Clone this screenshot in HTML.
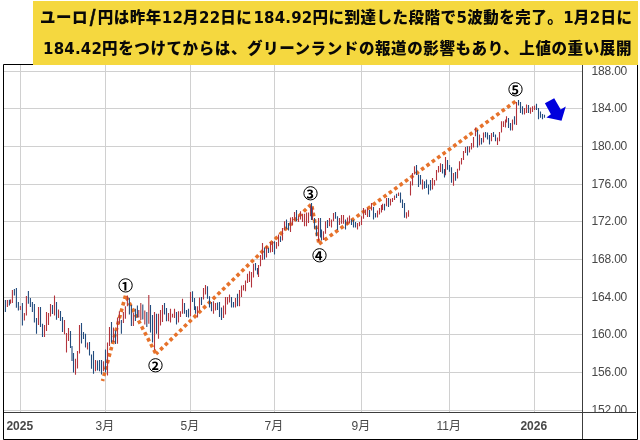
<!DOCTYPE html>
<html lang="ja"><head><meta charset="utf-8"><title>ユーロ/円</title>
<style>
html,body{margin:0;padding:0;background:#fff;}
body{width:640px;height:440px;position:relative;overflow:hidden;}
.box{position:absolute;left:33px;top:1px;width:605px;height:64px;background:#F5D83F;}
.t{position:absolute;white-space:nowrap;font-family:"Noto Sans CJK JP","Liberation Sans",sans-serif;font-weight:900;font-size:15.5px;letter-spacing:0.5px;line-height:20px;color:#080808;}
.l{font-family:"DejaVu Sans","Liberation Sans",sans-serif;font-weight:bold;font-size:15px;letter-spacing:0.2px;}
.sl{font-family:"Noto Sans CJK JP",sans-serif;font-weight:900;font-size:17px;padding:0 1.5px;-webkit-text-stroke:0.5px #080808;}
</style></head><body>
<svg width="640" height="440" viewBox="0 0 640 440" style="position:absolute;left:0;top:0"><defs><clipPath id="pc"><rect x="4" y="65" width="578" height="347"/></clipPath><clipPath id="lc"><rect x="583" y="65" width="54" height="347"/></clipPath></defs><path d="M4 71.5H582M4 108.5H582M4 146.5H582M4 184.5H582M4 221.5H582M4 259.5H582M4 297.5H582M4 334.5H582M4 372.5H582M4 410.5H582M20.5 65V412M105.5 65V412M190.5 65V412M274.5 65V412M361.5 65V412M449.5 65V412M534.5 65V412" stroke="#D0D0D0" stroke-width="1" fill="none"/><g stroke="#E6722B" stroke-width="3.6" stroke-dasharray="3.6 3.04" stroke-linecap="butt" fill="none"><path d="M102.5 381L125.5 295.5" stroke-dashoffset="1.50"/><path d="M125.5 295.5L156 354" stroke-dashoffset="-1.60"/><path d="M156 354L311.5 204" stroke-dashoffset="0.70"/><path d="M311.5 204L319 244" stroke-dashoffset="-2.30"/><path d="M319 244L516 101" stroke-dashoffset="-0.10"/></g><g clip-path="url(#pc)"><path d="M7.4 300.0V306.9M10.5 299.4V303.8M12.4 290.0V303.0M20.4 306.0V310.0M24.4 313.0V320.6M26.4 296.0V315.6M38.5 306.9V325.0M44.5 325.0V336.9M46.5 311.9V331.0M48.5 313.0V325.0M50.5 304.0V316.5M54.5 295.6V315.6M58.5 309.4V318.0M64.5 320.0V334.2M66.5 333.0V352.5M68.5 328.0V341.0M75.5 358.8V374.8M77.5 351.0V368.5M79.5 325.0V353.5M87.5 342.5V349.4M95.5 360.0V371.3M103.5 361.3V371.3M107.5 342.5V375.6M109.5 326.9V346.0M113.5 327.5V342.0M117.5 317.5V343.8M119.4 311.3V323.8M123.4 311.9V323.0M125.4 306.3V318.8M127.4 295.6V306.3M133.4 312.5V326.0M138.8 310.0V317.5M140.8 303.0V320.0M144.8 310.6V324.4M148.8 295.0V323.8M154.5 311.9V350.0M158.5 313.8V338.8M160.5 310.0V325.6M162.5 305.0V321.9M168.5 313.0V321.3M170.5 308.8V322.5M172.5 313.8V317.5M174.5 308.8V318.0M178.5 311.3V322.5M180.5 311.3V316.9M182.5 298.8V313.8M190.5 291.9V316.3M197.5 306.3V317.5M199.5 297.5V310.6M203.5 288.0V299.4M205.5 285.0V294.4M213.5 301.3V313.8M215.5 303.0V310.6M223.5 305.6V318.0M225.5 296.9V314.4M227.5 296.9V304.4M229.5 294.4V302.5M235.5 298.0V307.5M239.5 290.0V306.3M241.5 285.6V297.0M243.5 285.0V290.6M245.5 280.6V291.3M247.5 273.8V283.0M249.5 271.3V281.9M251.5 271.9V287.5M253.5 263.8V277.5M258.5 265.0V276.9M260.5 255.0V266.3M262.5 243.0V260.0M266.5 246.3V257.5M270.5 241.9V252.5M272.5 241.3V251.9M276.5 241.9V248.8M278.5 234.4V246.3M282.5 228.0V240.6M284.5 221.3V230.6M290.5 217.5V231.9M292.5 216.9V225.6M294.5 211.9V220.6M298.5 215.6V221.9M300.5 211.3V219.4M302.5 213.8V221.9M304.5 213.8V226.3M306.5 212.5V226.3M308.5 212.5V223.1M310.5 205.6V216.3M312.5 207.5V220.0M318.5 218.0V241.3M323.5 231.3V240.0M325.5 221.3V233.8M329.5 218.0V226.3M331.5 219.4V227.5M333.5 213.0V221.3M339.5 218.0V225.0M341.5 215.0V223.8M343.5 215.0V223.8M347.5 217.5V224.4M349.5 215.6V223.1M357.5 223.1V229.4M359.5 221.9V226.3M361.5 216.3V225.0M363.5 208.0V218.8M365.5 209.4V215.0M367.5 208.0V216.9M371.5 203.1V210.6M377.5 210.6V217.5M379.5 208.1V214.4M381.5 205.0V212.5M382.5 203.8V210.0M386.5 198.1V206.3M390.5 198.8V205.6M392.5 198.1V201.9M394.5 195.6V200.0M398.5 192.5V196.0M406.5 212.3V218.6M408.5 210.3V216.7M410.5 181.3V195.6M412.5 173.1V185.6M414.5 166.3V174.4M422.5 179.4V189.4M432.5 178.1V189.4M434.5 180.0V185.6M436.5 170.0V180.6M438.5 166.0V172.5M440.5 163.2V172.0M445.5 157.0V175.3M453.5 172.9V185.8M457.5 168.8V178.6M459.5 161.2V170.5M461.5 158.1V164.6M463.5 151.1V159.9M465.5 147.0V153.0M469.5 146.3V152.5M471.5 143.1V149.4M473.5 136.9V147.5M475.5 127.5V136.3M479.5 134.4V145.6M483.5 132.5V142.5M491.5 133.1V141.3M497.5 137.5V145.0M499.5 131.9V141.3M501.5 121.3V132.5M503.5 121.3V126.9M505.5 119.4V127.5M506.5 116.3V122.5M512.5 119.4V130.6M516.5 101.9V125.0M524.5 108.1V114.4M526.5 104.4V113.1M530.5 107.5V113.8M532.5 106.3V111.9M534.5 105.6V110.0" stroke="#B3343C" stroke-width="1.1" fill="none"/><path d="M5.4 300.0V311.9M9.4 299.8V305.6M14.4 289.0V295.6M16.4 288.0V307.8M18.4 302.0V310.6M22.4 303.0V325.6M28.4 291.0V303.8M30.4 298.0V306.9M32.4 301.9V311.9M34.4 304.0V322.5M36.5 318.0V333.8M40.5 306.9V326.9M42.5 323.8V336.9M52.5 305.0V314.0M56.5 302.0V319.7M60.5 311.0V321.0M62.5 317.0V332.0M70.5 331.0V348.0M72.0 346.0V361.0M73.5 353.0V372.5M81.5 323.0V343.5M83.5 332.0V339.0M85.5 333.8V347.5M89.5 341.9V355.6M91.5 354.4V368.8M93.5 351.0V373.8M97.5 360.6V370.6M99.5 360.0V371.3M101.5 360.0V374.4M105.5 349.4V372.5M111.5 321.9V342.5M115.5 330.6V344.0M121.4 320.0V333.8M129.4 298.0V314.4M131.4 305.0V326.0M135.4 308.8V321.0M137.4 305.6V317.5M142.8 304.4V319.4M146.8 311.9V326.9M150.5 305.0V332.5M152.5 315.0V342.5M156.5 313.8V333.8M164.5 303.0V314.4M166.5 308.0V321.3M176.5 311.9V324.4M184.5 303.0V313.8M186.5 310.0V316.9M188.5 308.8V317.5M192.5 291.3V301.9M194.5 298.0V310.0M195.5 306.3V313.8M201.5 296.9V305.0M207.5 286.3V298.8M209.5 296.3V307.5M211.5 301.9V311.3M217.5 302.5V310.0M219.5 301.9V316.9M221.5 307.5V320.0M231.5 296.9V307.5M233.5 301.9V307.5M237.5 293.8V306.3M255.5 263.0V270.6M257.5 268.0V274.4M264.5 247.5V259.4M268.5 248.0V253.0M274.5 241.3V254.4M280.5 236.3V241.9M286.5 219.4V228.8M288.5 223.0V230.6M296.5 210.0V221.3M311.5 203.0V220.0M314.5 218.0V228.8M316.5 225.6V236.3M320.5 218.0V237.5M321.5 229.4V240.6M327.5 220.0V228.1M335.5 211.9V218.8M337.5 216.3V230.0M345.5 219.4V229.4M351.5 219.4V225.0M353.5 220.0V227.5M355.5 221.9V227.5M369.5 210.0V216.9M373.5 206.9V219.4M375.5 213.1V217.5M384.5 203.8V210.6M388.5 198.1V206.9M396.5 193.8V198.1M400.5 192.5V202.7M402.5 199.4V208.0M404.5 203.1V217.8M416.5 165.0V175.0M418.5 174.4V186.9M420.5 175.0V184.4M424.5 181.3V188.8M426.5 179.4V188.1M428.5 184.4V194.4M430.5 180.0V190.6M442.5 164.0V173.6M444.5 168.9V177.6M447.5 160.1V169.7M449.5 165.1V171.7M451.5 167.2V182.7M455.5 172.0V180.7M467.5 146.3V155.6M477.5 130.0V147.5M481.5 138.1V144.4M485.5 131.9V137.5M487.5 132.5V139.4M489.5 135.0V144.4M493.5 131.9V136.9M495.5 134.4V141.3M508.5 118.1V128.1M510.5 123.1V130.6M514.5 116.3V124.4M518.5 100.0V105.6M520.5 101.9V113.1M522.5 106.3V114.4M528.5 105.0V113.1M536.5 103.8V110.0M538.5 108.0V119.3M540.5 111.6V117.7M542.5 114.1V119.3M544.5 114.7V117.7" stroke="#234C7E" stroke-width="1.1" fill="none"/></g><polygon points="544.9,103.3 554.2,98.2 560.7,109.5 565.8,106.5 561.5,120.7 546.4,117.5 550.9,114.2" fill="#0000DD"/><path d="M4 412.5H636M582.5 65V439" stroke="#3C3C3C" stroke-width="1" fill="none"/><path d="M3.5 64.5H637.5V439.5H3.5Z" stroke="#000" stroke-width="1" fill="none"/><g clip-path="url(#lc)" font-family="Liberation Sans, sans-serif" font-size="12" letter-spacing="-0.2" fill="#474747"><text x="591.6" y="74.6">188.00</text><text x="591.6" y="111.6">184.00</text><text x="591.6" y="149.6">180.00</text><text x="591.6" y="187.6">176.00</text><text x="591.6" y="224.6">172.00</text><text x="591.6" y="262.6">168.00</text><text x="591.6" y="300.6">164.00</text><text x="591.6" y="337.6">160.00</text><text x="591.6" y="375.6">156.00</text><text x="591.6" y="413.6">152.00</text></g><g font-family="Liberation Sans, Noto Sans CJK JP, sans-serif" font-size="12" fill="#474747" text-anchor="middle"><text x="19.8" y="430.3" font-weight="bold">2025</text><text x="104.8" y="430.3">3月</text><text x="189.8" y="430.3">5月</text><text x="273.8" y="430.3">7月</text><text x="360.8" y="430.3">9月</text><text x="448.8" y="430.3">11月</text><text x="533.8" y="430.3" font-weight="bold">2026</text></g><defs><clipPath id="cc0"><circle cx="125.6" cy="286.4" r="6.2"/></clipPath><clipPath id="cc1"><circle cx="155.5" cy="366.3" r="6.2"/></clipPath><clipPath id="cc2"><circle cx="310.5" cy="194.3" r="6.2"/></clipPath><clipPath id="cc3"><circle cx="319.5" cy="256.3" r="6.2"/></clipPath><clipPath id="cc4"><circle cx="515.5" cy="90.3" r="6.2"/></clipPath></defs><g font-family="Noto Sans CJK JP, sans-serif" font-weight="bold" font-size="16" fill="#000" text-anchor="middle"><text clip-path="url(#cc0)" x="125.10" y="292.40">①</text><text clip-path="url(#cc1)" x="155.00" y="372.30">②</text><text clip-path="url(#cc2)" x="310.00" y="200.30">③</text><text clip-path="url(#cc3)" x="319.00" y="262.30">④</text><text clip-path="url(#cc4)" x="515.00" y="96.30">⑤</text></g><g fill="none" stroke="#000" stroke-width="1.0"><circle cx="125.6" cy="285.4" r="6.65"/><circle cx="155.5" cy="365.3" r="6.65"/><circle cx="310.5" cy="193.3" r="6.65"/><circle cx="319.5" cy="255.3" r="6.65"/><circle cx="515.5" cy="89.3" r="6.65"/></g></svg>
<div class="box"></div>
<div class="t" id="t1" style="left:40px;top:6px">ユーロ<span class="l sl">/</span>円は昨年<span class="l">12</span>月<span class="l">22</span>日に<span class="l" style="margin-left:1px">184.92</span>円に到達した段階で<span class="l" style="margin-left:0px">5</span>波動を完了。<span class="l">1</span>月<span class="l">2</span>日に</div>
<div class="t" id="t2" style="left:43px;top:37px;letter-spacing:0.6px"><span class="l">184.42</span>円をつけてからは、グリーンランドの報道の影響もあり、上値の重い展開</div>
</body></html>
